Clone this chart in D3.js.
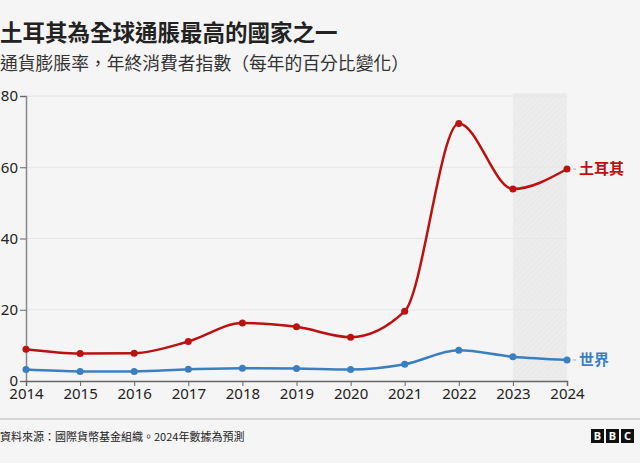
<!DOCTYPE html>
<html><head><meta charset="utf-8">
<script src="https://cdn.jsdelivr.net/npm/d3@7"></script>
<style>
html,body{margin:0;padding:0;background:#f5f5f5;}
svg{display:block;font-family:"Noto Sans CJK TC","Noto Sans",sans-serif;}
</style></head><body>
<script>
const years = [2014,2015,2016,2017,2018,2019,2020,2021,2022,2023,2024];
const turkey = [8.9,7.7,7.8,11.1,16.3,15.2,12.3,19.6,72.3,53.9,59.5];
const world = [3.2,2.7,2.7,3.3,3.6,3.5,3.2,4.7,8.6,6.8,5.9];
const yTicks = [0,20,40,60,80];
const seriesNames = ["土耳其","世界"];
const title = "土耳其為全球通脹最高的國家之一";
const subtitle = "通貨膨脹率，年終消費者指數（每年的百分比變化）";
const source = "資料來源：國際貨幣基金組織。2024年數據為預測";

const W=640,H=463;
const svg=d3.select("body").append("svg").attr("width",W).attr("height",H);
svg.append("rect").attr("width",W).attr("height",H).attr("fill","#f5f5f5");

const x=d3.scaleLinear().domain([2014,2024]).range([26,567]);
const y=d3.scaleLinear().domain([0,80]).range([381,96]);

// title
svg.append("text").attr("x",0).attr("y",41).attr("font-size",22.5).attr("font-weight",700)
 .attr("fill","#222").text(title);
svg.append("text").attr("x",0).attr("y",70).attr("font-size",17.8)
 .attr("fill","#333").text(subtitle);

// forecast shade
const defs=svg.append("defs");
const pat=defs.append("pattern").attr("id","hatch").attr("patternUnits","userSpaceOnUse")
 .attr("width",4).attr("height",4).attr("patternTransform","rotate(45)");
pat.append("rect").attr("width",4).attr("height",4).attr("fill","#ececec");
pat.append("line").attr("x1",0).attr("y1",0).attr("x2",0).attr("y2",4).attr("stroke","#e4e4e4").attr("stroke-width",1);
svg.append("rect").attr("x",x(2023)).attr("y",y(80)-3).attr("width",x(2024)-x(2023))
 .attr("height",y(0)-y(80)+3).attr("fill","url(#hatch)");

// gridlines
svg.append("g").selectAll("line").data(yTicks.filter(d=>d>0)).join("line")
 .attr("x1",x(2014)).attr("x2",x(2024)).attr("y1",d=>y(d)).attr("y2",d=>y(d))
 .attr("stroke","#e6e6e6").attr("stroke-width",1);

// y axis
const yAxis=svg.append("g").attr("transform",`translate(${x(2014)},0)`)
 .call(d3.axisLeft(y).tickValues(yTicks).tickSize(6).tickPadding(2));
yAxis.select(".domain").attr("stroke","#888").attr("stroke-width",1.5);
yAxis.selectAll(".tick line").attr("stroke","#666");
yAxis.selectAll("text").attr("font-size",15).attr("fill","#222")
 .attr("font-family","'Noto Sans',sans-serif");

// x axis
const xAxis=svg.append("g").attr("transform",`translate(0,${y(0)})`)
 .call(d3.axisBottom(x).tickValues(years).tickFormat(d3.format("d")).tickSize(5).tickPadding(2));
xAxis.select(".domain").attr("stroke","#666").attr("stroke-width",1.5);
xAxis.selectAll(".tick line").attr("stroke","#666");
xAxis.selectAll("text").attr("font-size",15).attr("fill","#222")
 .attr("font-family","'Noto Sans',sans-serif");

const line=d3.line().x((d,i)=>x(years[i])).y(d=>y(d)).curve(d3.curveMonotoneX);
const series=[{name:seriesNames[0],vals:turkey,color:"#bb1111"},{name:seriesNames[1],vals:world,color:"#3a7fc1"}];
series.slice().reverse().forEach(s=>{
  svg.append("path").attr("d",line(s.vals)).attr("fill","none").attr("stroke",s.color).attr("stroke-width",2.5);
  svg.append("g").selectAll("circle").data(s.vals).join("circle")
   .attr("cx",(d,i)=>x(years[i])).attr("cy",d=>y(d)).attr("r",3.5).attr("fill",s.color);
  const last=s.vals[s.vals.length-1];
  svg.append("line").attr("x1",x(2024)+6).attr("x2",x(2024)+9).attr("y1",y(last)).attr("y2",y(last))
   .attr("stroke","#aaa").attr("stroke-width",1);
  svg.append("text").attr("x",x(2024)+12).attr("y",y(last)).attr("dy","0.35em")
   .attr("font-size",15).attr("font-weight",700).attr("fill",s.color).text(s.name);
});

// footer
svg.append("line").attr("x1",0).attr("x2",W).attr("y1",419).attr("y2",419).attr("stroke","#c8c8c8").attr("stroke-width",1.5);
svg.append("text").attr("x",0).attr("y",441).attr("font-size",11).attr("fill","#222").text(source);
const logo=svg.append("g");
["B","B","C"].forEach((c,i)=>{
  logo.append("rect").attr("x",591+i*15).attr("y",429).attr("width",13).attr("height",14).attr("fill","#111");
  logo.append("text").attr("x",591+i*15+6.5).attr("y",440).attr("text-anchor","middle")
   .attr("font-size",11).attr("font-weight",700).attr("fill","#fff")
   .attr("font-family","'Noto Sans',sans-serif").text(c);
});
</script>
</body></html>
